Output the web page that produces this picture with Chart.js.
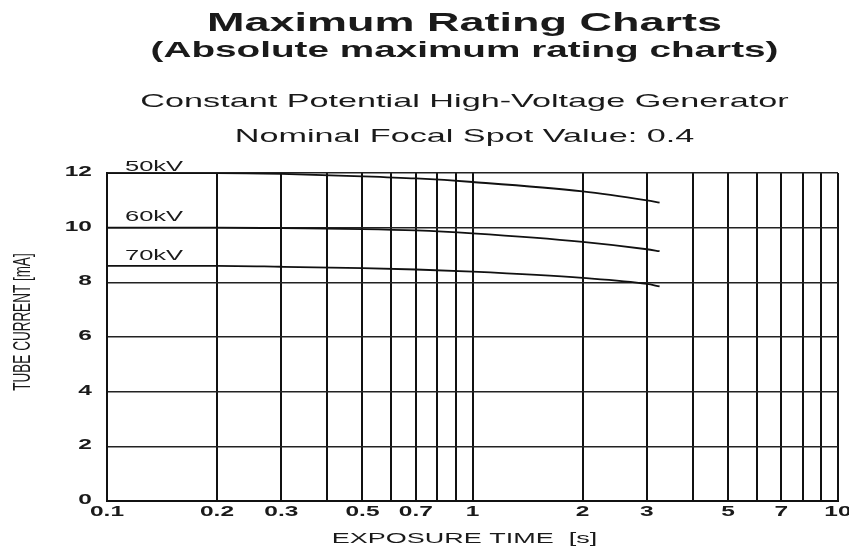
<!DOCTYPE html>
<html>
<head>
<meta charset="utf-8">
<script src="https://cdn.jsdelivr.net/npm/chart.js@4/dist/chart.umd.min.js"></script>
<style>
  html, body { margin: 0; padding: 0; background: #fff; }
  #wrap { width: 849px; height: 552px; }
</style>
</head>
<body>
<div id="wrap"><canvas id="chart" width="849" height="552"></canvas></div>
<script>
// exposure time [s] and tube current [mA]
const times = [0.1, 0.2, 0.3, 0.5, 0.7, 1, 2, 3, 3.25];
const kv50 = [12.0, 12.0, 11.97, 11.88, 11.8, 11.67, 11.33, 11.0, 10.92];
const kv60 = [10.0, 10.0, 9.98, 9.95, 9.9, 9.79, 9.48, 9.21, 9.14];
const kv70 = [8.6, 8.6, 8.57, 8.52, 8.47, 8.39, 8.16, 7.94, 7.85];

const seriesNames = ["50kV", "60kV", "70kV"];
// where each series name sits, in data units (time, current)
const labelAt = [[0.112, 12.08], [0.112, 10.23], [0.112, 8.81]];

const xGrid = [0.1, 0.2, 0.3, 0.4, 0.5, 0.6, 0.7, 0.8, 0.9,
               1, 2, 3, 4, 5, 6, 7, 8, 9, 10];
const xTickLabels = [0.1, 0.2, 0.3, 0.5, 0.7, 1, 2, 3, 5, 7, 10];
const yTickLabels = [0, 2, 4, 6, 8, 10, 12];

const titleLines = [
  "Maximum Rating Charts",
  "(Absolute maximum rating charts)",
  "Constant Potential High-Voltage Generator",
  "Nominal Focal Spot Value: 0.4"
];
const xTitle = "EXPOSURE TIME  [s]";
const yTitle = "TUBE CURRENT [mA]";

const FONT = "'Liberation Sans', Arial, sans-serif";
const INK = "#1a1a1a";
const STRETCH = 1.8; // the source image is stretched wide

function toXY(values) {
  return times.map((t, i) => ({ x: t, y: values[i] }));
}

function wideText(ctx, text, x, y, font, align, sx) {
  ctx.save();
  ctx.translate(x, y);
  ctx.scale(sx, 1);
  ctx.font = font;
  ctx.textAlign = align;
  ctx.fillText(text, 0, 0);
  ctx.restore();
}

const textPlugin = {
  id: "texts",
  afterDraw(chart) {
    const ctx = chart.ctx;
    const area = chart.chartArea;
    const xs = chart.scales.x;
    const ys = chart.scales.y;
    const cx = (area.left + area.right) / 2 - 8;

    ctx.save();
    ctx.fillStyle = INK;
    ctx.textBaseline = "alphabetic";

    wideText(ctx, titleLines[0], cx, 31, "bold 25px " + FONT, "center", STRETCH);
    wideText(ctx, titleLines[1], cx, 57, "bold 21.5px " + FONT, "center", STRETCH);
    wideText(ctx, titleLines[2], cx, 107, "19px " + FONT, "center", STRETCH);
    wideText(ctx, titleLines[3], cx, 142, "19px " + FONT, "center", STRETCH);

    // tick labels
    ctx.textBaseline = "middle";
    yTickLabels.forEach(v => {
      wideText(ctx, String(v), area.left - 15, ys.getPixelForValue(v) - 1,
        "bold 14px " + FONT, "right", 1.75);
    });
    xTickLabels.forEach(v => {
      wideText(ctx, String(v), xs.getPixelForValue(v), area.bottom + 11,
        "bold 14px " + FONT, "center", 1.75);
    });

    // axis titles
    ctx.textBaseline = "alphabetic";
    wideText(ctx, xTitle, cx, 543, "15px " + FONT, "center", STRETCH);

    ctx.save();
    ctx.translate(23, (area.top + area.bottom) / 2 - 15);
    ctx.rotate(-Math.PI / 2);
    ctx.scale(1, STRETCH);
    ctx.font = "13.5px " + FONT;
    ctx.textAlign = "center";
    ctx.textBaseline = "middle";
    ctx.fillText(yTitle, 0, 0);
    ctx.restore();

    // series names
    seriesNames.forEach((name, i) => {
      const [t, v] = labelAt[i];
      wideText(ctx, name, xs.getPixelForValue(t), ys.getPixelForValue(v),
        "15px " + FONT, "left", 1.7);
    });

    ctx.restore();
  }
};

const lineStyle = {
  borderColor: "#111",
  borderWidth: 1.8,
  pointRadius: 0,
  fill: false,
  cubicInterpolationMode: "monotone"
};

new Chart(document.getElementById("chart"), {
  type: "line",
  data: {
    datasets: [
      Object.assign({ label: seriesNames[0], data: toXY(kv50) }, lineStyle),
      Object.assign({ label: seriesNames[1], data: toXY(kv60) }, lineStyle),
      Object.assign({ label: seriesNames[2], data: toXY(kv70) }, lineStyle)
    ]
  },
  options: {
    responsive: false,
    animation: false,
    devicePixelRatio: 1,
    layout: { padding: { top: 173, right: 11, left: 0, bottom: 0 } },
    plugins: {
      legend: { display: false },
      title: { display: false },
      tooltip: { enabled: false }
    },
    scales: {
      x: {
        type: "logarithmic",
        min: 0.1,
        max: 10,
        afterBuildTicks(scale) {
          scale.ticks = xGrid.map(v => ({ value: v }));
        },
        afterFit(scale) { scale.height = 51; },
        ticks: { display: false },
        grid: { color: "#111", lineWidth: 2, drawTicks: false },
        border: { color: "#111", width: 2 }
      },
      y: {
        min: 0,
        max: 12,
        afterBuildTicks(scale) {
          scale.ticks = yTickLabels.map(v => ({ value: v }));
        },
        afterFit(scale) { scale.width = 107; },
        ticks: { display: false },
        grid: { color: "#222", lineWidth: 1.5, drawTicks: false },
        border: { color: "#111", width: 2 }
      }
    }
  },
  plugins: [textPlugin]
});
</script>
</body>
</html>
